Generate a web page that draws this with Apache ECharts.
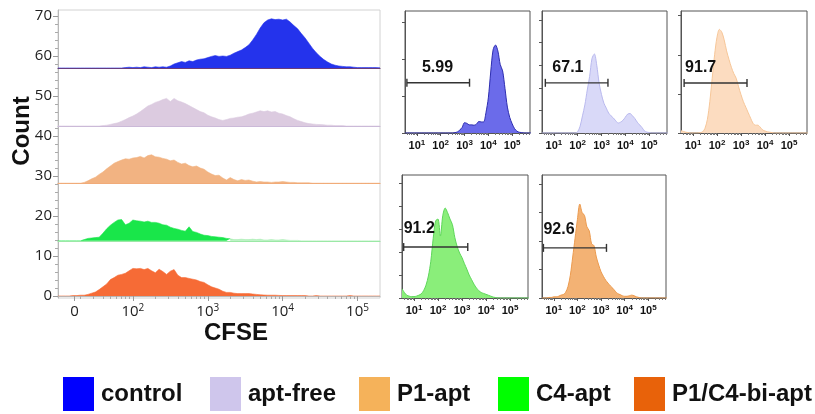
<!DOCTYPE html>
<html>
<head>
<meta charset="utf-8">
<script src="https://cdn.jsdelivr.net/npm/echarts@6/dist/echarts.min.js"></script>
<style>
  html, body { margin: 0; padding: 0; background: #fff; }
  #chart { width: 815px; height: 414px; }
</style>
</head>
<body>
<div id="chart"></div>
<script>
// sample names (legend + panels)
var names = ['control', 'apt-free', 'P1-apt', 'C4-apt', 'P1/C4-bi-apt'];

// ---- left overlay: CFSE bins (display units, 2 = 10^2) and heights above each offset
var overlayX = [
  1.00, 1.05, 1.10, 1.15, 1.20, 1.25, 1.30, 1.35, 1.40, 1.45,
  1.50, 1.55, 1.60, 1.65, 1.70, 1.75, 1.80, 1.85, 1.90, 1.95,
  2.00, 2.05, 2.10, 2.15, 2.20, 2.25, 2.30, 2.35, 2.40, 2.45,
  2.50, 2.55, 2.60, 2.65, 2.70, 2.75, 2.80, 2.85, 2.90, 2.95,
  3.00, 3.05, 3.10, 3.15, 3.20, 3.25, 3.30, 3.35, 3.40, 3.45,
  3.50, 3.55, 3.60, 3.65, 3.70, 3.75, 3.80, 3.85, 3.90, 3.95,
  4.00, 4.05, 4.10, 4.15, 4.20, 4.25, 4.30, 4.35, 4.40, 4.45,
  4.50, 4.55, 4.60, 4.65, 4.70, 4.75, 4.80, 4.85, 4.90, 4.95,
  5.00, 5.05, 5.10, 5.15, 5.20, 5.25, 5.30
];
var overlayOffsets = [57, 42.5, 28.2, 13.8, 0];

var controlCounts = [
  0, 0, 0, 0, 0, 0, 0, 0, 0, 0,
  0, 0, 0, 0, 0, 0, 0, 0, 0.1, 0.2,
  0.1, 0.2, 0.1, 0.3, 0.2, 0.1, 0.3, 0.2, 0.3, 0.2,
  0.5, 1.0, 1.3, 1.6, 1.4, 1.8, 1.6, 2.0, 2.2, 2.3,
  2.6, 2.9, 3.1, 2.9, 3.0, 2.9, 3.2, 3.7, 4.1, 4.5,
  5.1, 5.8, 7.0, 8.4, 10.0, 11.3, 12.0, 12.3, 12.1, 12.2,
  12.0, 12.2, 11.5, 10.6, 9.8, 8.6, 7.5, 6.2, 4.9, 3.8,
  2.9, 2.1, 1.5, 1.0, 0.7, 0.5, 0.4, 0.3, 0.3, 0.2,
  0.1, 0.1, 0.1, 0.1, 0.1, 0.1, 0.1
];
var aptFreeCounts = [
  0, 0, 0, 0, 0, 0, 0, 0, 0, 0,
  0, 0, 0.1, 0.2, 0.4, 0.6, 0.8, 1.2, 1.6, 2.1,
  2.5, 3.0, 3.6, 4.3, 5.0, 5.4, 5.9, 6.2, 6.6, 6.9,
  6.1, 6.9, 6.3, 6.0, 5.6, 5.1, 4.6, 4.1, 3.6, 3.3,
  2.7, 2.3, 2.0, 1.6, 1.4, 1.6, 1.9, 2.0, 2.2, 2.3,
  2.6, 3.0, 3.2, 3.5, 3.8, 3.6, 3.8, 3.5, 3.6, 3.2,
  3.0, 2.6, 2.3, 1.8, 1.4, 1.1, 0.8, 0.6, 0.5, 0.4,
  0.35, 0.3, 0.2, 0.2, 0.1, 0.1, 0.1, 0, 0, 0,
  0, 0, 0, 0, 0, 0, 0
];
var p1Counts = [
  0, 0, 0, 0, 0, 0, 0, 0.2, 0.6, 1.1,
  1.5, 2.2, 2.8, 3.6, 4.3, 5.0, 5.4, 5.8, 6.1, 6.0,
  6.3, 6.4, 6.7, 6.3, 6.9, 7.1, 6.6, 6.5, 6.2, 6.0,
  5.6, 5.8, 5.2, 4.8, 5.0, 4.4, 4.1, 4.3, 3.8, 3.5,
  2.8, 2.3, 1.9, 2.0, 1.3, 0.8, 1.4, 0.9, 0.6, 0.9,
  0.7, 0.8, 0.5, 0.3, 0.4, 0.3, 0.3, 0.2, 0.3, 0.3,
  0.4, 0.3, 0.2, 0.2, 0.1, 0.1, 0.1, 0.1, 0, 0,
  0, 0, 0, 0, 0, 0, 0, 0, 0, 0,
  0, 0, 0, 0, 0, 0, 0
];
var c4Counts = [
  0, 0, 0, 0, 0, 0, 0, 0.3, 0.6, 0.7,
  0.8, 0.9, 1.9, 3.0, 3.9, 4.6, 5.2, 5.3, 4.0, 4.4,
  5.2, 5.0, 4.9, 4.7, 4.9, 4.6, 4.6, 4.4, 4.0, 3.9,
  3.4, 3.1, 2.9, 2.6, 2.4, 3.5, 2.3, 2.1, 1.7, 1.4,
  1.3, 1.1, 1.0, 0.9, 0.8, 0.6, 0.5, 0.3, 0.3, 0.4,
  0.3, 0.3, 0.4, 0.3, 0.4, 0.2, 0.2, 0.3, 0.2, 0.2,
  0.3, 0.2, 0.1, 0.1, 0.1, 0, 0, 0, 0, 0,
  0, 0, 0, 0, 0, 0, 0, 0, 0, 0,
  0, 0, 0, 0, 0, 0, 0
];
var biCounts = [
  0, 0, 0, 0, 0.1, 0.1, 0.2, 0.2, 0.4, 0.7,
  1.0, 1.6, 2.3, 3.0, 4.1, 4.6, 5.2, 5.4, 5.7, 6.3,
  6.9, 6.8, 6.9, 6.6, 6.9, 6.3, 5.8, 6.7, 6.1, 5.4,
  6.2, 6.6, 5.2, 4.6, 4.6, 4.4, 4.2, 4.0, 3.6, 3.4,
  2.8, 2.3, 2.0, 1.7, 1.2, 0.9, 0.9, 0.7, 0.6, 0.6,
  0.6, 0.6, 0.5, 0.4, 0.3, 0.25, 0.2, 0.2, 0.2, 0.15,
  0.1, 0.1, 0.1, 0.1, 0.1, 0.1, 0.1, 0, 0, 0.1,
  0, 0, 0, 0, 0, 0, 0, 0, 0.1, 0,
  0, 0, 0, 0, 0, 0, 0
];
var overlayCounts = [controlCounts, aptFreeCounts, p1Counts, c4Counts, biCounts];
// C4-apt events above this CFSE value are drawn pale in the overlay
var c4BrightEnd = 3.3;

var overlayTickPos = [1.22, 2, 3, 4, 5];
var overlayTickText = ['0', '10{s|2}', '10{s|3}', '10{s|4}', '10{s|5}'];
var countTicks = [0, 10, 20, 30, 40, 50, 60, 70];
var countMinorTicks = [2, 4, 6, 8, 12, 14, 16, 18, 22, 24, 26, 28, 32, 34, 36, 38, 42, 44, 46, 48, 52, 54, 56, 58, 62, 64, 66, 68];

// ---- single-sample panels
var panelX = [
  0.5, 0.6, 0.7, 0.8, 0.9, 1.0, 1.1, 1.2, 1.3, 1.4,
  1.5, 1.6, 1.7, 1.8, 1.9, 2.0, 2.1, 2.2, 2.3, 2.4,
  2.5, 2.6, 2.7, 2.8, 2.9, 3.0, 3.1, 3.2, 3.3, 3.4,
  3.5, 3.6, 3.7, 3.8, 3.9, 4.0, 4.1, 4.2, 4.3, 4.4,
  4.5, 4.6, 4.7, 4.8, 4.9, 5.0, 5.1, 5.2, 5.3, 5.4,
  5.5, 5.6, 5.7, 5.8
];
var controlPanel = [
  0, 0, 0, 0, 0, 0, 0, 0, 0, 0,
  0, 0, 0, 0, 0, 0, 0, 0, 0, 0,
  0, 1, 3, 8, 15, 28, 26, 22, 22, 21,
  24, 31, 30, 30, 55, 95, 165, 225, 238, 222,
  185, 168, 120, 70, 42, 25, 12, 5, 2, 1,
  0, 0, 0, 0
];
var aptFreePanel = [
  0, 0, 0, 0, 0, 0, 0, 0, 0, 0,
  0, 0, 0, 0, 0, 3, 15, 38, 62, 95,
  125, 165, 175, 150, 110, 85, 66, 55, 44, 38,
  33, 27, 22, 24, 28, 35, 42, 43, 38, 32,
  24, 18, 12, 5, 2, 1, 0, 0, 0, 0,
  0, 0, 0, 0
];
var p1Panel = [
  6, 4, 2, 1, 0, 0, 0, 0, 1, 3,
  12, 35, 80, 140, 200, 245, 265, 258, 238, 210,
  188, 168, 152, 140, 118, 98, 80, 66, 52, 38,
  25, 20, 20, 15, 8, 5, 3, 2, 1, 0,
  0, 0, 0, 0, 0, 0, 0, 0, 0, 0,
  0, 0, 0, 0
];
var c4Panel = [
  20, 12, 6, 4, 3, 3, 4, 6, 9, 16,
  28, 48, 80, 130, 168, 172, 135, 180, 196, 186,
  172, 160, 132, 112, 98, 88, 75, 63, 50, 40,
  30, 22, 16, 12, 10, 8, 6, 4, 2, 1,
  0, 0, 0, 0, 0, 0, 0, 0, 0, 0,
  0, 0, 0, 0
];
var biPanel = [
  0, 0, 0, 1, 1, 2, 2, 3, 5, 6,
  10, 20, 40, 72, 105, 138, 165, 150, 145, 125,
  118, 95, 92, 72, 58, 46, 38, 31, 26, 21,
  17, 12, 8, 6, 4, 3, 3, 4, 5, 4,
  2, 1, 0, 0, 0, 0, 0, 0, 0, 0,
  0, 0, 0, 0
];
var panelCounts = [controlPanel, aptFreePanel, p1Panel, c4Panel, biPanel];
var panelMax = [330, 270, 312, 268, 216];
var panelStep = [100, 50, 100, 50, 50];

// gates: start / end on the CFSE scale, height, percentage
var gateStart = [0.58, 0.64, 0.63, 0.57, 0.56];
var gateEnd = [3.21, 3.27, 3.25, 3.24, 3.23];
var gateLevel = [136, 111, 128, 111, 88];
var gatePercent = ['5.99', '67.1', '91.7', '91.2', '92.6'];

var panelTickPos = [1, 2, 3, 4, 5];
var panelTickText = ['10{s|1}', '10{s|2}', '10{s|3}', '10{s|4}', '10{s|5}'];

// ---- styles / layout
var overlayFill = ['#2433ec', '#dccbe0', '#f2b382', '#19e64a', '#f66b36'];
var overlayBase = ['#6a3d7a', '#cbb9d8', '#f0aa78', '#9be8a6', 'rgba(0,0,0,0)'];
var c4TailFill = '#abefb5';
var panelFill = ['#6b6bea', '#d9d9f8', '#fcdcc0', '#8aee7a', '#f3b274'];
var panelLine = ['#2c2cb0', '#b9b9ee', '#f6c698', '#5ed65a', '#eb9a4e'];
var legendColor = ['#0000ff', '#cfc6ec', '#f5b25a', '#00ff00', '#e8620a'];
var legendLeft = [63, 210, 359, 498, 634];
var overlayBox = { left: 58, top: 10, width: 322, height: 288, yMin: -0.5, yMax: 71.5 };
var stripCounts = 15; // y range of each overlay strip, in counts
var panelBox = [
  { left: 405, top: 11, width: 125, height: 122 },
  { left: 542, top: 11, width: 125, height: 122 },
  { left: 681, top: 11, width: 126, height: 122 },
  { left: 402, top: 175, width: 126, height: 123 },
  { left: 542, top: 175, width: 124, height: 123 }
];
var gateLabelShift = [[15, 2], [7, 2], [1, 2], [0, -1], [0, -1]];

function logMinor(lo, hi) {
  var out = [];
  for (var n = 0; n <= 5; n++) {
    for (var k = 2; k <= 9; k++) {
      var v = n + Math.log10(k);
      if (v > lo && v < hi) out.push(v);
    }
  }
  return out;
}
function pickLabel(pos, text) {
  return function (v) {
    for (var i = 0; i < pos.length; i++) {
      if (Math.abs(pos[i] - v) < 1e-6) return text[i];
    }
    return '';
  };
}
function hiddenAxis(gi, min, max, extra) {
  var a = {
    gridIndex: gi, type: 'value', min: min, max: max,
    axisLine: { show: false }, axisTick: { show: false }, axisLabel: { show: false }, splitLine: { show: false }
  };
  return Object.assign(a, extra || {});
}

var grids = [];
var xAxes = [];
var yAxes = [];
var series = [];

// overview frame with the Count / CFSE scales
var ob = overlayBox;
grids.push({ left: ob.left, top: ob.top, width: ob.width, height: ob.height, show: true, borderColor: '#d2d2d2', borderWidth: 1 });
xAxes.push({
  gridIndex: 0, type: 'value', min: 1.0, max: 5.3, position: 'bottom',
  axisLine: { lineStyle: { color: '#b8b8b8' } },
  splitLine: { show: false },
  axisTick: { customValues: overlayTickPos, length: 5, lineStyle: { color: '#999' } },
  axisLabel: {
    customValues: overlayTickPos, formatter: pickLabel(overlayTickPos, overlayTickText),
    margin: 5, color: '#222', fontSize: 15, lineHeight: 17, fontFamily: 'Open Sans',
    rich: { s: { fontSize: 10, lineHeight: 10, verticalAlign: 'top', fontFamily: 'Open Sans', color: '#222' } }
  }
});
xAxes.push(hiddenAxis(0, 1.0, 5.3, {
  position: 'bottom', offset: 0,
  axisTick: { show: true, customValues: logMinor(1.3, 5.3), length: 3, lineStyle: { color: '#aaa' } }
}));
yAxes.push({
  gridIndex: 0, type: 'value', min: ob.yMin, max: ob.yMax, position: 'left',
  axisLine: { show: true, lineStyle: { color: '#b8b8b8' } },
  splitLine: { show: false },
  axisTick: { show: true, customValues: countTicks, length: 5, lineStyle: { color: '#999' } },
  axisLabel: { customValues: countTicks, margin: 6, color: '#222', fontSize: 15, fontFamily: 'Open Sans' }
});
yAxes.push(hiddenAxis(0, ob.yMin, ob.yMax, {
  position: 'left', offset: 0,
  axisTick: { show: true, customValues: countMinorTicks, length: 3, lineStyle: { color: '#aaa' } }
}));

// one strip per trace, its x axis line is the trace's offset baseline
var pxPerCount = ob.height / (ob.yMax - ob.yMin);
overlayCounts.forEach(function (counts, i) {
  var baseY = ob.top + (ob.yMax - overlayOffsets[i]) * pxPerCount;
  var gi = grids.length;
  grids.push({ left: ob.left, width: ob.width, top: baseY - stripCounts * pxPerCount, height: stripCounts * pxPerCount });
  var xi = xAxes.length;
  xAxes.push(hiddenAxis(gi, 1.0, 5.3, {
    position: 'bottom',
    axisLine: { show: true, onZero: false, lineStyle: { color: overlayBase[i], width: 1.2 } }
  }));
  var yi = yAxes.length;
  yAxes.push(hiddenAxis(gi, 0, stripCounts));
  var pts = overlayX.map(function (x, j) { return [x, counts[j]]; });
  if (i === 3) {
    series.push({
      name: names[i] + ' tail', type: 'line', xAxisIndex: xi, yAxisIndex: yi, symbol: 'none', silent: true,
      itemStyle: { color: c4TailFill }, lineStyle: { color: c4TailFill, width: 0.6 },
      areaStyle: { color: c4TailFill, opacity: 1 },
      data: pts.filter(function (p) { return p[0] >= c4BrightEnd; })
    });
    pts = pts.filter(function (p) { return p[0] <= c4BrightEnd; });
  }
  series.push({
    name: names[i], type: 'line', xAxisIndex: xi, yAxisIndex: yi, symbol: 'none',
    itemStyle: { color: overlayFill[i] }, lineStyle: { color: overlayFill[i], width: 0.6 },
    areaStyle: { color: overlayFill[i], opacity: 1 },
    data: pts
  });
});

// single-sample panels with gates
panelCounts.forEach(function (counts, k) {
  var b = panelBox[k];
  var gi = grids.length;
  grids.push({ left: b.left, top: b.top, width: b.width, height: b.height, show: true, borderColor: '#555', borderWidth: 1 });
  var xi = xAxes.length;
  xAxes.push({
    gridIndex: gi, type: 'value', min: 0.5, max: 5.75, position: 'bottom',
    axisLine: { lineStyle: { color: '#555' } }, splitLine: { show: false },
    axisTick: { customValues: panelTickPos, length: 3, lineStyle: { color: '#555' } },
    axisLabel: {
      customValues: panelTickPos, formatter: pickLabel(panelTickPos, panelTickText),
      margin: 6, color: '#111', fontSize: 11, fontWeight: 'bold', lineHeight: 13, fontFamily: 'Liberation Sans',
      rich: { s: { fontSize: 8, lineHeight: 8, verticalAlign: 'top', fontWeight: 'bold', fontFamily: 'Liberation Sans', color: '#111' } }
    }
  });
  xAxes.push(hiddenAxis(gi, 0.5, 5.75, {
    position: 'bottom', offset: 0,
    axisTick: { show: true, customValues: logMinor(0.5, 5.75), length: 2, lineStyle: { color: '#777' } }
  }));
  var ticks = [];
  for (var t = 0; t < panelMax[k] - 1; t += panelStep[k]) ticks.push(t);
  var yi = yAxes.length;
  yAxes.push({
    gridIndex: gi, type: 'value', min: 0, max: panelMax[k], position: 'left',
    axisLine: { show: true, lineStyle: { color: '#555' } }, splitLine: { show: false },
    axisTick: { show: true, customValues: ticks, length: 3, lineStyle: { color: '#555' } },
    axisLabel: { show: false }
  });
  series.push({
    name: names[k], type: 'line', xAxisIndex: xi, yAxisIndex: yi,
    symbol: 'none', smooth: 0.3, z: 2,
    itemStyle: { color: panelFill[k] },
    lineStyle: { color: panelLine[k], width: 1 },
    areaStyle: { color: panelFill[k], opacity: 1 },
    data: panelX.map(function (x, j) { return [x, counts[j]]; })
  });
  series.push({
    name: 'gate ' + k, type: 'line', xAxisIndex: xi, yAxisIndex: yi,
    symbol: 'rect', symbolSize: [1.4, 8], silent: true, z: 5,
    itemStyle: { color: '#333' },
    lineStyle: { color: '#333', width: 1.4 },
    data: [
      {
        value: [gateStart[k], gateLevel[k]],
        label: {
          show: true, formatter: gatePercent[k], position: 'top', align: 'left',
          offset: gateLabelShift[k], color: '#111', fontSize: 16, fontWeight: 'bold', fontFamily: 'Liberation Sans'
        }
      },
      [gateEnd[k], gateLevel[k]]
    ]
  });
});

var legends = names.map(function (n, i) {
  return {
    data: [{ name: n, itemStyle: { color: legendColor[i] } }],
    left: legendLeft[i], top: 377, orient: 'horizontal',
    icon: 'rect', itemWidth: 31, itemHeight: 34, itemGap: 0, padding: 0,
    selectedMode: false,
    textStyle: { fontSize: 24, fontWeight: 'bold', color: '#111', fontFamily: 'Liberation Sans', padding: [0, 0, 0, 2] }
  };
});

var chart = echarts.init(document.getElementById('chart'));
chart.setOption({
  animation: false,
  backgroundColor: '#fff',
  grid: grids,
  xAxis: xAxes,
  yAxis: yAxes,
  legend: legends,
  graphic: [
    {
      type: 'text', x: 22, y: 131, rotation: Math.PI / 2,
      style: { text: 'Count', font: 'bold 24px "Liberation Sans", Arial, sans-serif', fill: '#111', align: 'center', verticalAlign: 'middle' }
    },
    {
      type: 'text', x: 236, y: 333,
      style: { text: 'CFSE', font: 'bold 24px "Liberation Sans", Arial, sans-serif', fill: '#111', align: 'center', verticalAlign: 'middle' }
    }
  ],
  series: series
});
</script>
</body>
</html>
